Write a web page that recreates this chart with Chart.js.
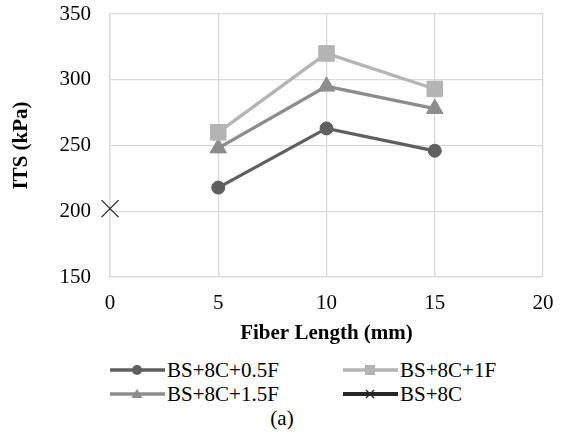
<!DOCTYPE html>
<html>
<head>
<meta charset="utf-8">
<script src="https://cdn.jsdelivr.net/npm/chart.js@4"></script>
<style>
  body { margin: 0; background: #fff; font-family: "Liberation Serif", "Times New Roman", serif; }
  #wrap { position: relative; width: 564px; height: 434px; }
  #box { position: absolute; left: 0; top: 0; width: 564px; height: 348px; }
  .leg { position: absolute; font-size: 21px; line-height: 24px; color: #000; display: flex; align-items: center; white-space: nowrap; }
  .leg svg { margin-right: 2px; }
  #cap { position: absolute; left: 0; width: 564px; top: 406px; line-height: 24px; text-align: center; font-size: 21px; }
</style>
</head>
<body>
<div id="wrap">
  <div id="box"><canvas id="itsChart"></canvas></div>
  <div id="legend"></div>
  <div id="cap">(a)</div>
</div>
<script>
// fiber length (mm)
var fiber_len = [5, 10, 15]
var its_05F = [218, 263, 246]
var its_1F = [260, 320, 293]
var its_15F = [248, 295, 278]
// plain BS+8C at zero fiber
var base_len = [0]
var its_base = [202]

var x_ticks = [0, 5, 10, 15, 20]
var y_ticks = [150, 200, 250, 300, 350]

function pts(xs, ys) {
    return xs.map((x, i) => ({ x: x, y: ys[i] }))
}

var series = [
    { label: 'BS+8C+0.5F', data: pts(fiber_len, its_05F), color: '#5f5f5f', style: 'circle', r: 6.5 },
    { label: 'BS+8C+1F', data: pts(fiber_len, its_1F), color: '#b4b4b4', style: 'rect', r: 11 },
    { label: 'BS+8C+1.5F', data: pts(fiber_len, its_15F), color: '#8c8c8c', style: 'triangle', r: 9.5 },
    { label: 'BS+8C', data: pts(base_len, its_base), color: '#262626', style: 'crossRot', r: 12 }
]

var serif = '"Liberation Serif", "Times New Roman", serif'
Chart.defaults.font.family = serif

// keep the plot box where the reference has it
function noPad(ax) {
    ax.paddingTop = 0
    ax.paddingBottom = 0
    ax.paddingLeft = 0
    ax.paddingRight = 0
}

var chart_data = {
    type: 'line',
    data: {
        datasets: series.map((s) => ({
            label: s.label,
            data: s.data,
            borderColor: s.color,
            backgroundColor: s.color,
            borderWidth: s.style == 'crossRot' ? 4 : 3.3,
            pointStyle: s.style,
            pointRadius: s.r,
            pointBorderWidth: s.style == 'crossRot' ? 1.3 : 1,
            pointBorderColor: s.color,
            clip: false,
            tension: 0
        }))
    },
    options: {
        responsive: true,
        maintainAspectRatio: false,
        animation: false,
        layout: { padding: { left: 5, right: 21, top: 14, bottom: 0 } },
        plugins: { legend: { display: false }, tooltip: { enabled: false } },
        scales: {
            x: {
                type: 'linear',
                min: 0,
                max: 20,
                afterBuildTicks: (ax) => { ax.ticks = x_ticks.map((v) => ({ value: v })) },
                afterFit: (ax) => { ax.height = 71; noPad(ax) },
                grid: { color: '#d9d9d9', lineWidth: 1.3, drawTicks: false },
                border: { color: '#d9d9d9', width: 1.3 },
                ticks: { color: '#000', padding: 14, font: { family: serif, size: 21 } },
                title: { display: true, text: 'Fiber Length (mm)', color: '#000', padding: { top: 0, bottom: 2 },
                    font: { family: serif, size: 21, weight: 'bold' } }
            },
            y: {
                min: 150,
                max: 350,
                afterBuildTicks: (ax) => { ax.ticks = y_ticks.map((v) => ({ value: v })) },
                afterFit: (ax) => { ax.width = 105; noPad(ax) },
                grid: { color: '#d9d9d9', lineWidth: 1.3, drawTicks: false },
                border: { color: '#d9d9d9', width: 1.3 },
                ticks: { color: '#000', padding: 19, font: { family: serif, size: 21 } },
                title: { display: true, text: 'ITS (kPa)', color: '#000', padding: { top: 4, bottom: 0 },
                    font: { family: serif, size: 21, weight: 'bold' } }
            }
        }
    }
}

// html legend, two columns
var legend = document.getElementById('legend')
series.forEach((s, i) => {
    var col = [110, 343][i % 2]
    var row = Math.floor(i / 2)
    var mk = ''
    if (s.style == 'circle') mk = '<circle cx="27" cy="12" r="5" fill="' + s.color + '"/>'
    if (s.style == 'rect') mk = '<rect x="22" y="7" width="10" height="10" fill="' + s.color + '"/>'
    if (s.style == 'triangle') mk = '<polygon points="27,7 32.5,16 21.5,16" fill="' + s.color + '"/>'
    if (s.style == 'crossRot') mk = '<path d="M23,8 L31,16 M31,8 L23,16" stroke="' + s.color + '" stroke-width="1.3"/>'
    var d = document.createElement('div')
    d.className = 'leg'
    d.style.left = col + 'px'
    d.style.top = (358 + row * 24) + 'px'
    d.innerHTML = '<svg width="55" height="24"><line x1="0" y1="12" x2="55" y2="12" stroke="' + s.color +
        '" stroke-width="' + (s.style == 'crossRot' ? 4 : 3.3) + '"/>' + mk + '</svg>' + s.label
    legend.appendChild(d)
})

var its_chart
Promise.all([
    document.fonts.load('21px "Liberation Serif"'),
    document.fonts.load('bold 21px "Liberation Serif"')
]).catch(() => {}).then(() => {
    its_chart = new Chart(document.getElementById('itsChart'), chart_data)
})
</script>
</body>
</html>
